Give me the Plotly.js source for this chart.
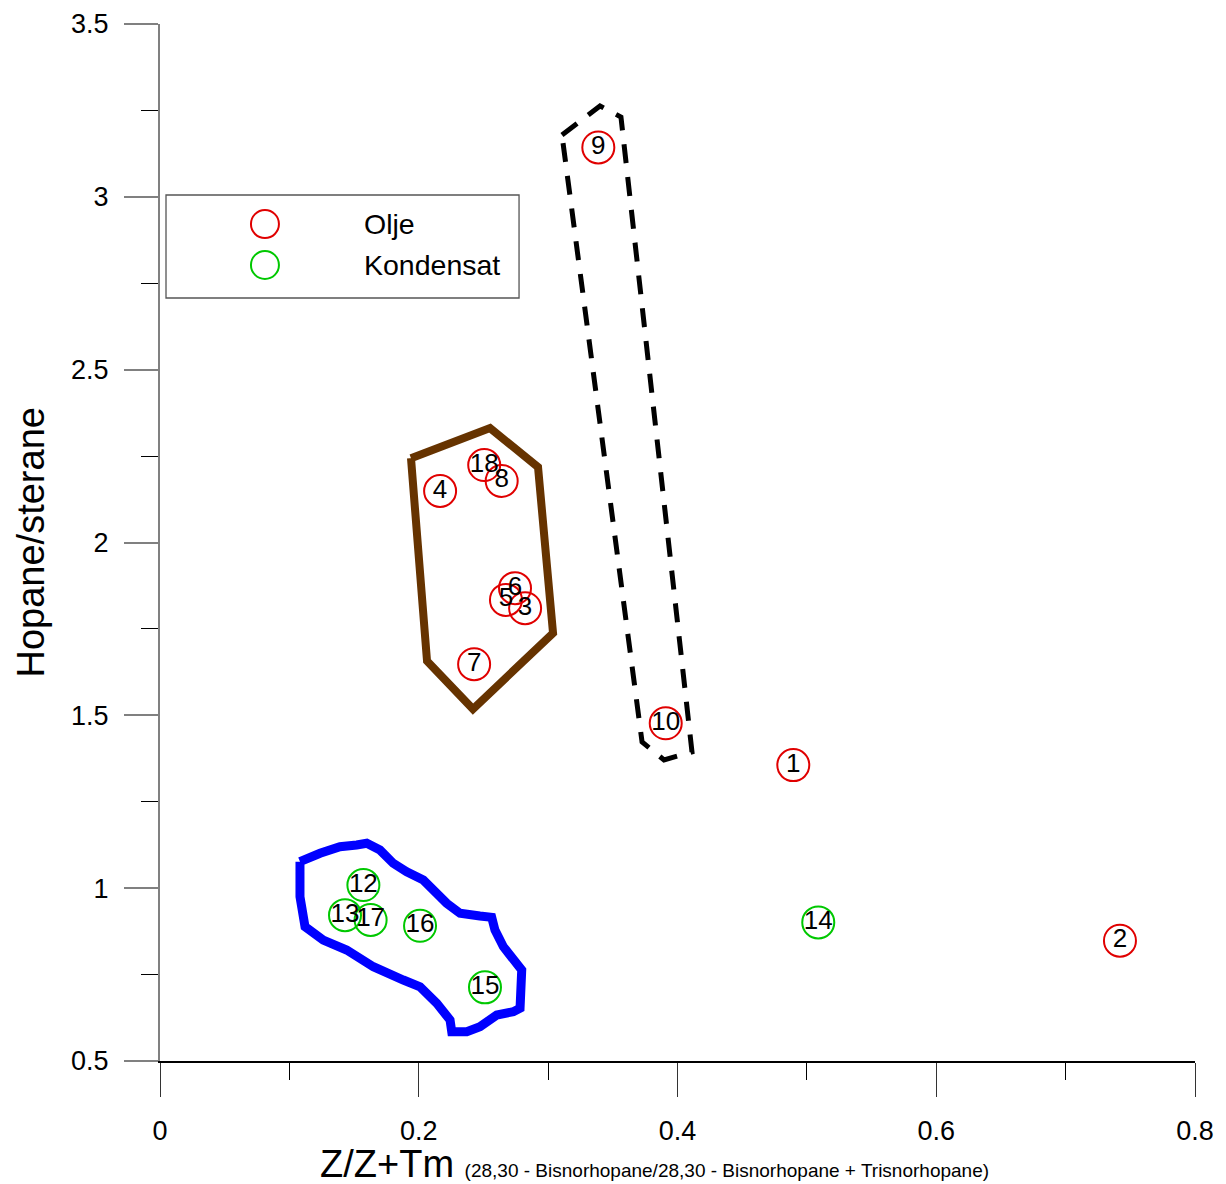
<!DOCTYPE html>
<html>
<head>
<meta charset="utf-8">
<script src="https://cdn.plot.ly/plotly-3.0.1.min.js"></script>
<style>
html,body{margin:0;padding:0;background:#fff;}
#chart{width:1226px;height:1184px;}
</style>
</head>
<body>
<div id="chart"></div>
<script>
// ---- Data ----
const oljeLabels = ['1','2','3','4','5','6','7','8','9','10','18'];
const oljeX = [0.4895, 0.742, 0.2822, 0.2165, 0.2674, 0.2744, 0.2428, 0.2641, 0.3388, 0.3909, 0.2506];
const oljeY = [1.356, 0.848, 1.810, 2.149, 1.834, 1.868, 1.648, 2.178, 3.143, 1.477, 2.224];

const kondLabels = ['12','13','14','15','16','17'];
const kondX = [0.1572, 0.143, 0.5088, 0.2512, 0.201, 0.1628];
const kondY = [1.009, 0.922, 0.901, 0.713, 0.891, 0.908];

// Group outlines (closed polygons)
const brownX = [0.194, 0.2551, 0.2922, 0.3038, 0.2419, 0.2064, 0.194];
const brownY = [2.244, 2.331, 2.218, 1.738, 1.518, 1.657, 2.244];

const dashX = [0.3107, 0.3401, 0.3563, 0.4112, 0.3896, 0.3726, 0.3107];
const dashY = [3.179, 3.263, 3.231, 1.394, 1.371, 1.423, 3.179];

const blueX = [0.1082, 0.1082, 0.1121, 0.1262, 0.1443, 0.1649, 0.1881, 0.2010, 0.2139, 0.2242, 0.2255, 0.2371, 0.2473, 0.2603, 0.2731, 0.2783, 0.2796, 0.2731, 0.2654, 0.2589, 0.2564, 0.2473, 0.2319, 0.2216, 0.2139, 0.2035, 0.1907, 0.1803, 0.1700, 0.1598, 0.1520, 0.1391, 0.1237, 0.1082];
const blueY = [1.0766, 0.9753, 0.8885, 0.850, 0.8211, 0.7728, 0.7343, 0.7149, 0.6669, 0.6186, 0.5848, 0.5848, 0.5992, 0.6331, 0.6426, 0.6525, 0.7633, 0.7922, 0.8307, 0.8790, 0.9157, 0.9195, 0.9273, 0.9562, 0.9851, 1.0236, 1.0476, 1.0719, 1.1104, 1.1298, 1.1249, 1.1200, 1.1009, 1.0766];

const xTickVals = [0, 0.2, 0.4, 0.6, 0.8];
const xTickText = ['0', '0.2', '0.4', '0.6', '0.8'];
const xMinorVals = [0.1, 0.3, 0.5, 0.7];
const yTickVals = [0.5, 1, 1.5, 2, 2.5, 3, 3.5];
const yTickText = ['0.5', '1', '1.5', '2', '2.5', '3', '3.5'];
const yMinorVals = [0.75, 1.25, 1.75, 2.25, 2.75, 3.25];

const seriesNames = ['Olje', 'Kondensat'];

// ---- Styles ----
const FONT = 'Liberation Sans, Arial, Helvetica, sans-serif';
const RED = '#e00000';
const GREEN = '#00c800';
const seriesColors = [RED, GREEN];

const traces = [
  {x: blueX, y: blueY, mode: 'lines', line: {color: '#0000ff', width: 9}, showlegend: false, hoverinfo: 'skip'},
  {x: brownX, y: brownY, mode: 'lines', line: {color: '#663300', width: 8}, showlegend: false, hoverinfo: 'skip'},
  {x: dashX, y: dashY, mode: 'lines', line: {color: '#000000', width: 5, dash: '19px,14px'}, showlegend: false, hoverinfo: 'skip'},
  {
    x: oljeX, y: oljeY, text: oljeLabels, name: seriesNames[0],
    mode: 'markers+text', textposition: 'middle center',
    textfont: {family: FONT, size: 26, color: '#000'},
    marker: {symbol: 'circle-open', size: 32, color: RED, line: {color: RED, width: 2}},
    showlegend: false
  },
  {
    x: kondX, y: kondY, text: kondLabels, name: seriesNames[1],
    mode: 'markers+text', textposition: 'middle center',
    textfont: {family: FONT, size: 26, color: '#000'},
    marker: {symbol: 'circle-open', size: 32, color: GREEN, line: {color: GREEN, width: 2}},
    showlegend: false
  }
];

// ---- Legend (drawn as layout shapes and annotations) ----
const legendBox = {x0: 0.0058, x1: 0.3469, y0: 0.7358, y1: 0.8351};
const legendSymX = 0.1014, legendTextX = 0.1952;
const legendRowY = [0.8071, 0.7676];

const shapes = [
  {type: 'rect', xref: 'paper', yref: 'paper', x0: legendBox.x0, x1: legendBox.x1, y0: legendBox.y0, y1: legendBox.y1,
   line: {color: '#555', width: 1.3}, fillcolor: '#fff', layer: 'above'}
];
const annotations = [
  {
    xref: 'paper', yref: 'paper', x: 0.1527, y: -0.0995, xanchor: 'left', yanchor: 'middle',
    showarrow: false,
    text: 'Z/Z+Tm <span style="font-size:19px">(28,30 - Bisnorhopane/28,30 - Bisnorhopane + Trisnorhopane)</span>',
    font: {family: FONT, size: 38, color: '#000'}
  },
  {
    xref: 'paper', yref: 'paper', x: -0.1256, y: 0.5, xanchor: 'center', yanchor: 'middle',
    showarrow: false, textangle: -90,
    text: 'Hopane/sterane',
    font: {family: FONT, size: 38, color: '#000'}
  }
];
seriesNames.forEach((nm, i) => {
  shapes.push({
    type: 'circle', xref: 'paper', yref: 'paper', xsizemode: 'pixel', ysizemode: 'pixel',
    xanchor: legendSymX, yanchor: legendRowY[i], x0: -14, x1: 14, y0: -14, y1: 14,
    line: {color: seriesColors[i], width: 2}, layer: 'above'
  });
  annotations.push({
    xref: 'paper', yref: 'paper', x: legendTextX, y: legendRowY[i], xanchor: 'left', yanchor: 'middle',
    showarrow: false, text: nm, font: {family: FONT, size: 28.5, color: '#000'}
  });
});

const layout = {
  width: 1226, height: 1184,
  margin: {l: 160, r: 31, t: 24, b: 123},
  paper_bgcolor: '#fff', plot_bgcolor: '#fff',
  font: {family: FONT, color: '#000'},
  showlegend: false,
  xaxis: {
    range: [0, 0.8], showgrid: false, zeroline: false,
    showline: true, linecolor: '#000', linewidth: 1.5,
    tickmode: 'array', tickvals: xTickVals, ticktext: xTickText,
    ticks: 'outside', ticklen: 34, tickwidth: 1, tickcolor: '#333',
    tickfont: {family: FONT, size: 27, color: '#000'},
    ticklabelstandoff: 11,
    minor: {tickmode: 'array', tickvals: xMinorVals, ticks: 'outside', ticklen: 17, tickwidth: 1, tickcolor: '#000', showgrid: false}
  },
  yaxis: {
    range: [0.5, 3.5], showgrid: false, zeroline: false,
    showline: true, linecolor: '#808080', linewidth: 2,
    tickmode: 'array', tickvals: yTickVals, ticktext: yTickText,
    ticks: 'outside', ticklen: 34, tickwidth: 2, tickcolor: '#808080',
    tickfont: {family: FONT, size: 27, color: '#000'},
    ticklabelstandoff: 10,
    minor: {tickmode: 'array', tickvals: yMinorVals, ticks: 'outside', ticklen: 17, tickwidth: 1, tickcolor: '#000', showgrid: false}
  },
  shapes: shapes,
  annotations: annotations
};

Plotly.newPlot('chart', traces, layout, {staticPlot: true, displayModeBar: false});
</script>
</body>
</html>
